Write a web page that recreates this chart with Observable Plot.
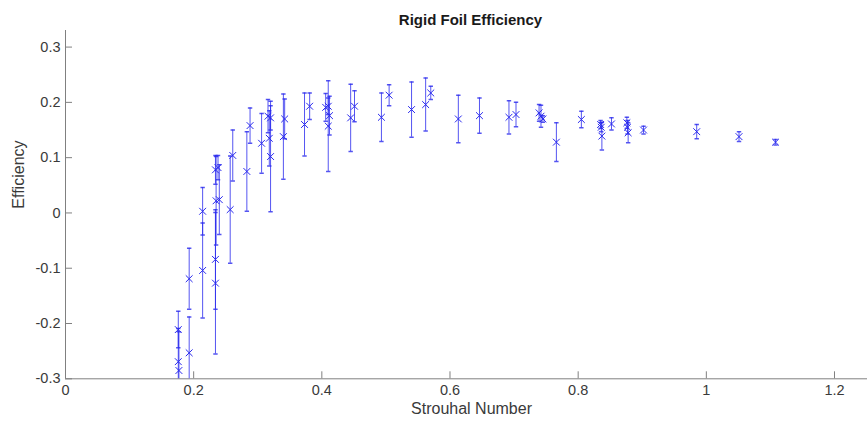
<!DOCTYPE html>
<html>
<head>
<meta charset="utf-8">
<script src="https://cdn.jsdelivr.net/npm/d3@7"></script>
<script src="https://cdn.jsdelivr.net/npm/@observablehq/plot@0.6"></script>
<style>
  html, body { margin: 0; padding: 0; background: #fff; }
  #chart { width: 867px; height: 426px; }
</style>
</head>
<body>
<div id="chart"></div>
<script>
const strouhal = [0.176, 0.176, 0.177, 0.193, 0.193, 0.214, 0.214, 0.234, 0.238, 0.235,
  0.240, 0.234, 0.234, 0.257, 0.261, 0.283, 0.288, 0.306, 0.316, 0.320,
  0.318, 0.320, 0.342, 0.340, 0.373, 0.381, 0.406, 0.410, 0.412, 0.410,
  0.445, 0.451, 0.493, 0.505, 0.540, 0.562, 0.570, 0.613, 0.646, 0.692,
  0.703, 0.739, 0.742, 0.745, 0.766, 0.805, 0.835, 0.836, 0.837, 0.852,
  0.876, 0.877, 0.878, 0.902, 0.985, 1.051, 1.108];
const efficiency = [-0.211, -0.269, -0.285, -0.119, -0.253, 0.003, -0.104, 0.078, 0.082, 0.022,
  0.024, -0.084, -0.127, 0.006, 0.104, 0.075, 0.158, 0.126, 0.175, 0.172,
  0.135, 0.102, 0.170, 0.138, 0.160, 0.193, 0.191, 0.193, 0.176, 0.157,
  0.172, 0.193, 0.173, 0.213, 0.187, 0.196, 0.217, 0.170, 0.176, 0.173,
  0.178, 0.181, 0.175, 0.170, 0.128, 0.169, 0.160, 0.155, 0.139, 0.161,
  0.163, 0.155, 0.145, 0.150, 0.147, 0.138, 0.128];
const errorHalf = [0.033, 0.06, 0.07, 0.055, 0.065, 0.043, 0.086, 0.026, 0.022, 0.08,
  0.063, 0.09, 0.128, 0.097, 0.046, 0.072, 0.032, 0.054, 0.03, 0.022,
  0.05, 0.1, 0.036, 0.077, 0.057, 0.024, 0.025, 0.015, 0.035, 0.082,
  0.061, 0.028, 0.044, 0.019, 0.05, 0.048, 0.012, 0.043, 0.032, 0.03,
  0.022, 0.015, 0.02, 0.006, 0.035, 0.015, 0.007, 0.008, 0.025, 0.011,
  0.01, 0.012, 0.018, 0.007, 0.013, 0.009, 0.005];
const xTicks = [0, 0.2, 0.4, 0.6, 0.8, 1, 1.2];
const yTicks = [-0.3, -0.2, -0.1, 0, 0.1, 0.2, 0.3];
const xDomain = [0, 1.2515];
const yDomain = [-0.3, 0.330];
const titleText = "Rigid Foil Efficiency";
const xLabel = "Strouhal Number";
const yLabel = "Efficiency";

const data = strouhal.map((s, i) => ({st: s, eff: efficiency[i], e: errorHalf[i]}));

const capSymbol = {
  draw(context, size) {
    const r = Math.sqrt(size / Math.PI);
    context.moveTo(-r, 0);
    context.lineTo(r, 0);
  }
};

const axisColor = "#808080";
const textColor = "#3a3a3a";
const blue = "#2a2aee";
const font = "'Liberation Sans', Arial, sans-serif";

const chart = Plot.plot({
  width: 867,
  height: 426,
  marginLeft: 65,
  marginRight: 0,
  marginTop: 30,
  marginBottom: 47.7,
  style: {fontFamily: font, background: "#fff"},
  x: {domain: xDomain, ticks: xTicks},
  y: {domain: yDomain, ticks: yTicks},
  marks: [
    Plot.ruleX([0], {stroke: axisColor}),
    Plot.ruleY([-0.3], {stroke: axisColor}),
    Plot.axisX({ticks: xTicks, tickSize: 7, dy: -7, fill: "none", stroke: axisColor, label: null}),
    Plot.axisY({ticks: yTicks, tickSize: 7, dx: 7, fill: "none", stroke: axisColor, label: null}),
    Plot.axisX({ticks: xTicks, tickSize: 0, tickPadding: 6, fontSize: 14.5, fill: textColor, label: null, tickFormat: d => String(d)}),
    Plot.axisY({ticks: yTicks, tickSize: 0, tickPadding: 5, fontSize: 14.5, fill: textColor, label: null, tickFormat: d => String(d)}),
    Plot.ruleX(data, {x: "st", y1: d => d.eff - d.e, y2: d => d.eff + d.e, stroke: blue, strokeOpacity: 0.8, strokeWidth: 1, clip: true}),
    Plot.dot(data, {x: "st", y: d => d.eff + d.e, symbol: capSymbol, r: 2.2, stroke: blue, strokeOpacity: 0.8, clip: true}),
    Plot.dot(data, {x: "st", y: d => d.eff - d.e, symbol: capSymbol, r: 2.2, stroke: blue, strokeOpacity: 0.8, clip: true}),
    Plot.dot(data, {x: "st", y: "eff", symbol: "times", r: 3.2, stroke: blue, strokeWidth: 1, clip: true}),
    Plot.text([titleText], {frameAnchor: "top", dy: -16, dx: 4, fontSize: 15, fontWeight: "bold", fill: "#1a1a1a"}),
    Plot.text([xLabel], {frameAnchor: "bottom", dy: 35, dx: 5, fontSize: 16, fill: textColor}),
    Plot.text([yLabel], {frameAnchor: "left", dx: -47, dy: 4, rotate: -90, fontSize: 16, fill: textColor})
  ]
});
document.getElementById("chart").appendChild(chart);
</script>
</body>
</html>
